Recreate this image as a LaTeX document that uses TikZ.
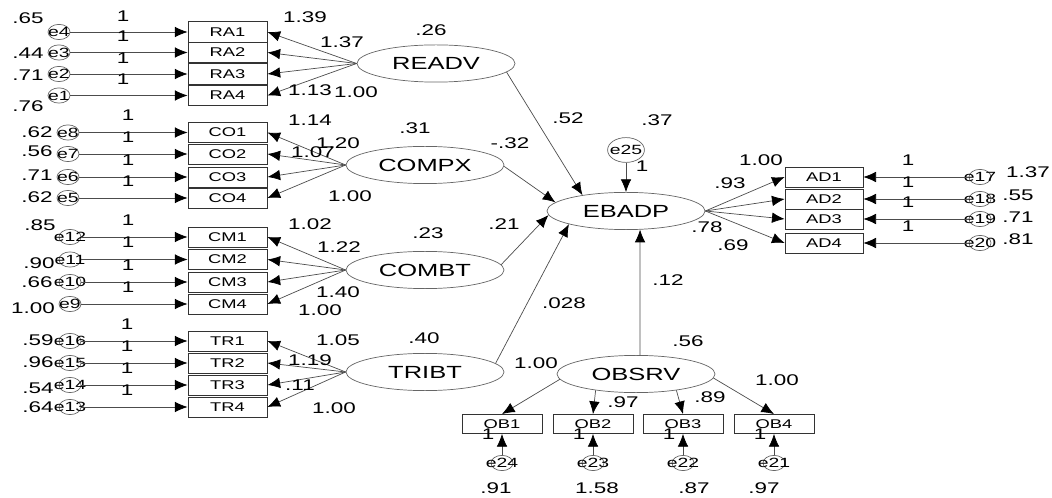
\documentclass[tikz,border=0pt]{standalone}
\usepackage{fontspec}
\usepackage{tikz}
\usetikzlibrary{arrows.meta,shapes.geometric}

\newfontfamily\amos{Liberation Sans}[FakeStretch=1.45]
\newcommand\numfont{\amos\fontsize{11}{13}\selectfont}
\newcommand\latfont{\amos\fontsize{12.5}{14}\selectfont}
\newcommand\boxfont{\amos\fontsize{9}{11}\selectfont}
\newcommand\errfont{\amos\fontsize{9.5}{11}\selectfont}
\newcommand\errtext[1]{\makebox[0pt]{#1}}

\tikzset{
  lat/.style={ellipse, draw=black!60, minimum width=3.95cm, minimum height=0.93cm, inner sep=0pt, font=\latfont},
  ind/.style={rectangle, draw=black!80, minimum width=1.98cm, minimum height=0.51cm, inner sep=0pt, font=\boxfont},
  err/.style={ellipse, draw=black!60, minimum width=0.55cm, minimum height=0.38cm, inner sep=0pt, font=\errfont},
  num/.style={inner sep=0pt, font=\numfont},
  path/.style={->, black!70},
}

\begin{document}
\begin{tikzpicture}[x=0.025cm, y=-0.025cm, >={Latex[length=9pt,width=7.5pt,color=black]}, line width=0.5pt]
  \useasboundingbox (0,0) rectangle (1052,498);

  % latent variables
  \node[lat] (readv) at (436,63.5) {READV};
  \node[lat] (compx) at (425,165) {COMPX};
  \node[lat] (combt) at (425,270) {COMBT};
  \node[lat] (tribt) at (425,372) {TRIBT};
  \node[lat] (ebadp) at (626,211) {EBADP};
  \node[lat] (obsrv) at (636,374) {OBSRV};

  % READV block
  \foreach \nm/\er/\y/\v/\vy in {RA1/e4/32/.65/18, RA2/e3/52.5/.44/53, RA3/e2/74/.71/75, RA4/e1/95.5/.76/106}{
    \node[ind] (\nm) at (227.5,\y) {\nm};
    \node[err] (\er) at (59,\y) {\errtext{\er}};
    \node[num] (v-\er) at (28,\vy) {\v};
    \node[num] (one-\er) at (123,\y-16) {1};
    \draw[path] (\er) -- (\nm);
    \draw[path] (readv.west) -- (\nm.east);
  }
  \node[num] (l-ra1) at (305,17) {1.39};
  \node[num] (l-ra2) at (342,42) {1.37};
  \node[num] (l-ra3) at (310,90) {1.13};
  \node[num] (l-ra4) at (356,92) {1.00};
  \node[num] (v-readv) at (431,30) {.26};

  % COMPX block
  \foreach \nm/\er/\y/\v/\vy in {CO1/e8/132.5/.62/132, CO2/e7/154/.56/151, CO3/e6/177/.71/175, CO4/e5/198/.62/197}{
    \node[ind, minimum height=0.5cm] (\nm) at (227.5,\y) {\nm};
    \node[err] (\er) at (68,\y) {\errtext{\er}};
    \node[num] (v-\er) at (37,\vy) {\v};
    \node[num] (one-\er) at (128,\y-17) {1};
    \draw[path] (\er) -- (\nm);
    \draw[path] (compx.west) -- (\nm.east);
  }
  \node[num] (l-co1) at (310,120) {1.14};
  \node[num] (l-co2) at (338,143) {1.20};
  \node[num] (l-co3) at (313,152) {1.07};
  \node[num] (l-co4) at (350,196) {1.00};
  \node[num] (v-compx) at (415,128) {.31};

  % COMBT block
  \foreach \nm/\er/\y/\v/\vx/\vy in {CM1/e12/237/.85/40/225, CM2/e11/259.5/.90/39/263, CM3/e10/282/.66/37/282, CM4/e9/304/1.00/33/308}{
    \node[ind, minimum height=0.5cm] (\nm) at (227.5,\y) {\nm};
    \node[err] (\er) at (70,\y) {\errtext{\er}};
    \node[num] (v-\er) at (\vx,\vy) {\v};
    \node[num] (one-\er) at (128,\y-17) {1};
    \draw[path] (\er) -- (\nm);
    \draw[path] (combt.west) -- (\nm.east);
  }
  \node[num] (l-cm1) at (310,224) {1.02};
  \node[num] (l-cm2) at (339,247) {1.22};
  \node[num] (l-cm3) at (338,292) {1.40};
  \node[num] (l-cm4) at (320,310) {1.00};
  \node[num] (v-combt) at (428,233) {.23};

  % TRIBT block
  \foreach \nm/\er/\y/\v/\vy in {TR1/e16/341/.59/340, TR2/e15/363/.96/362, TR3/e14/385/.54/388, TR4/e13/407/.64/407}{
    \node[ind, minimum height=0.5cm] (\nm) at (227.5,\y) {\nm};
    \node[err] (\er) at (70,\y) {\errtext{\er}};
    \node[num] (v-\er) at (38,\vy) {\v};
    \node[num] (one-\er) at (127,\y-17) {1};
    \draw[path] (\er) -- (\nm);
    \draw[path] (tribt.west) -- (\nm.east);
  }
  \node[num] (l-tr1) at (338,340) {1.05};
  \node[num] (l-tr2) at (310,360) {1.19};
  \node[num] (l-tr3) at (300,385) {.11};
  \node[num] (l-tr4) at (334,408) {1.00};
  \node[num] (v-tribt) at (424,338) {.40};

  % structural paths
  \node[err, minimum width=0.92cm, minimum height=0.62cm] (e25) at (626,150) {\errtext{e25}};
  \node[num] (v-e25) at (657,120) {.37};
  \node[num] (one-e25) at (642,166) {1};
  \draw[path] (e25) -- (ebadp);
  \draw[path] (readv.-7) -- (ebadp.160);
  \draw[path] (compx.-1) -- (ebadp.173);
  \draw[path] (combt.4) -- (ebadp.183);
  \draw[path] (tribt.7) -- (ebadp.193);
  \draw[path] (obsrv.78) -- (ebadp.-53);
  \node[num] (p-readv) at (568,118) {.52};
  \node[num] (p-compx) at (510,143) {-.32};
  \node[num] (p-combt) at (504,224) {.21};
  \node[num] (p-tribt) at (564,303) {.028};
  \node[num] (p-obsrv) at (668,280) {.12};

  % EBADP indicators
  \foreach \nm/\er/\y/\v/\vx/\vy in {AD1/e17/177/1.37/1028/172, AD2/e18/199/.55/1018/195, AD3/e19/219/.71/1018/217, AD4/e20/243/.81/1018/239}{
    \node[ind, minimum width=1.95cm, minimum height=0.5cm] (\nm) at (824,\y) {\nm};
    \node[err] (\er) at (980,\y) {\errtext{\er}};
    \node[num] (v-\er) at (\vx,\vy) {\v};
    \node[num] (one-\er) at (908,\y-17) {1};
    \draw[path] (\er) -- (\nm);
    \draw[path] (ebadp.east) -- (\nm.west);
  }
  \node[num] (l-ad1) at (761,160) {1.00};
  \node[num] (l-ad2) at (730,183) {.93};
  \node[num] (l-ad3) at (707,227) {.78};
  \node[num] (l-ad4) at (733,245) {.69};

  % OBSRV indicators
  \node[num] (v-obsrv) at (688,341) {.56};
  \foreach \nm/\er/\x/\v/\vx/\a in {OB1/e24/502/.91/496/184, OB2/e23/593/1.58/597/202, OB3/e22/683/.87/694/-22, OB4/e21/774/.97/764/-3}{
    \node[ind, minimum width=2cm, minimum height=0.48cm] (\nm) at (\x,424) {\nm};
    \node[err] (\er) at (\x,463) {\errtext{\er}};
    \node[num] (v-\er) at (\vx,488) {\v};
    \node[num] (one-\er) at (\x-14,434) {1};
    \draw[path] (\er) -- (\nm);
    \draw[path] (obsrv.\a) -- (\nm.north);
  }
  \node[num] (l-ob1) at (536,363) {1.00};
  \node[num] (l-ob2) at (623,402) {.97};
  \node[num] (l-ob3) at (710,397) {.89};
  \node[num] (l-ob4) at (777,380) {1.00};
\end{tikzpicture}
\end{document}
